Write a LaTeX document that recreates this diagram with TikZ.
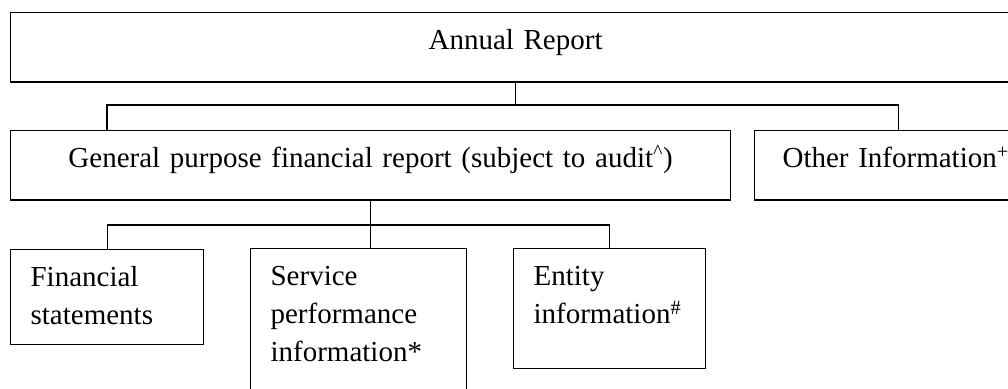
\documentclass[tikz,border=0pt]{standalone}
\usepackage{fontspec}
\setmainfont{Liberation Serif}
\usetikzlibrary{positioning}

\begin{document}
\begin{tikzpicture}[
  x=1pt, y=-1pt,
  box/.style={draw, line width=1.2pt, anchor=north west, align=left, inner xsep=20pt, inner ysep=10.4pt, font=\fontsize{29}{38}\selectfont},
  wide/.style={box, align=center, text depth=22pt},
  link/.style={line width=1.2pt}
]
\useasboundingbox (0,0) rectangle (1008,388);
\clip (0,0) rectangle (1008,388);

\node[wide, text width=970pt] (annual) at (10,12) {\strut Annual Report};
\node[wide, text width=680pt] (general) at (10,130) {\strut General purpose financial report (subject to audit\textsuperscript{\textasciicircum})};
\node[wide, align=left, inner xsep=28pt, text width=232pt] (other) at (754,130) {\strut Other Information\textsuperscript{+}};

\node[box, text width=153pt, text depth=47.6pt] (fin) at (10,249) {\strut Financial\\statements};
\node[box, text width=176pt, text depth=104.6pt] (service) at (250,248) {\strut Service\\performance\\information*};
\node[box, text width=152pt, text depth=72.6pt] (entity) at (513,248) {\strut Entity\\information\textsuperscript{\#}};

% top level
\coordinate (busA) at (0,105);
\coordinate (gtop) at ([xshift=97pt]general.north west);
\draw[link] (annual.south) -- (annual.south |- busA);
\draw[link] (gtop) -- (gtop |- busA) -| (other.north);

% second level
\coordinate (busB) at (0,225);
\draw[link] (general.south) -- (general.south |- service.north);
\draw[link] (fin.north) |- (busB -| entity.north) -- (entity.north);
\end{tikzpicture}
\end{document}
